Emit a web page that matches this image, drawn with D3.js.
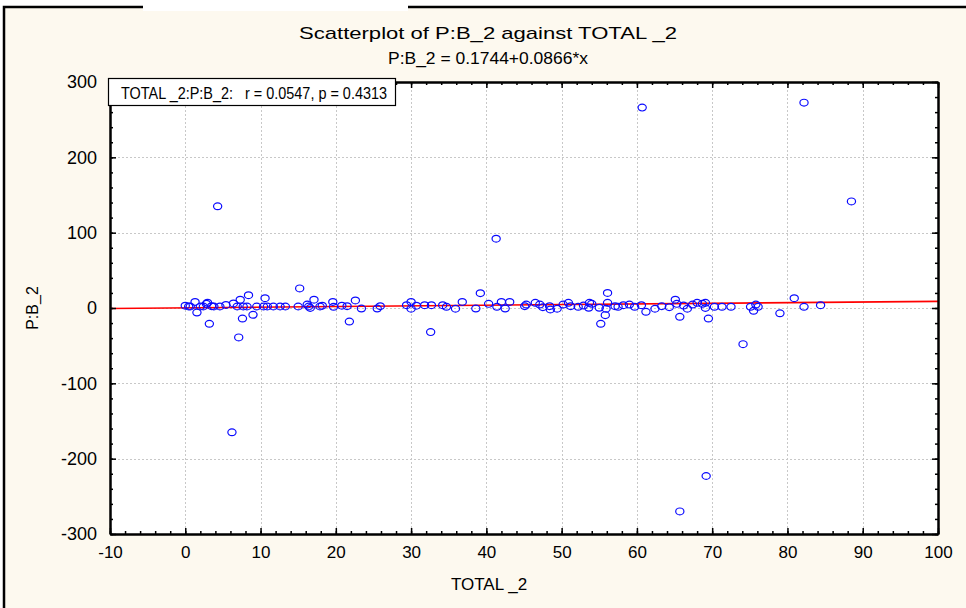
<!DOCTYPE html>
<html>
<head>
<meta charset="utf-8">
<script src="https://cdn.jsdelivr.net/npm/d3@7"></script>
<style>
  body { margin: 0; background: #ffffff; }
  svg text { font-family: "Liberation Sans", Arial, sans-serif; fill: #000; }
</style>
</head>
<body>
<svg id="chart" width="966" height="608"></svg>
<script>
// values
var totalValues = [0, 0.45, 0.66, 1.3, 1.55, 2.0, 2.4, 2.8, 2.96, 3.2, 3.5, 3.8, 4.3, 4.6, 5.4, 6.2, 6.4, 6.9, 7.1, 7.3, 7.6, 7.7, 8.2, 8.4, 9.0, 9.5, 10.4, 10.6, 10.9, 11.7, 12.6, 13.3, 15.0, 15.2, 16.4, 17.1, 17.9,
  16.2, 16.6, 18.2, 19.6, 19.7, 20.8, 21.5, 21.8, 22.6, 23.4, 25.5, 25.9, 29.4, 30.0, 30.0, 30.7, 31.8, 32.6, 32.7, 34.2, 34.7, 35.9, 36.8, 38.6, 39.2, 40.3, 41.3, 41.4, 42.0, 42.5, 43.1,
  45.1, 45.3, 46.5, 47.1, 47.5, 48.4, 48.5, 49.4, 50.2, 50.9, 51.2, 52.2, 52.9, 53.6, 53.7, 54.0, 55.0, 55.2, 55.8, 55.9, 56.1, 56.1, 57.1, 57.5, 58.2, 59.0, 59.7, 60.6, 60.7, 61.2, 62.4, 63.3, 64.3, 65.1, 65.3, 65.7, 65.7, 66.2, 66.7, 67.4, 68.0, 68.7, 69.1, 69.1, 69.2, 69.5, 70.3,
  71.3, 72.5, 74.1, 75.1, 75.5, 75.8, 76.1, 79.0, 80.9, 82.2, 82.2, 84.4, 88.5];
var pbValues = [3, 2, 2, 8, -6, 2, 2, 5.5, 7, -21, 2.4, 2, 135, 2, 4, -165, 6, 2, -39, 11, -14, 2, 2, 17, -9, 2, 2, 13, 2, 2, 2, 2, 2, 26, 2, 11, 2,
  4.6, 0, 3, 8, 1.6, 3, 2.4, -18, 10, -0.7, -0.7, 2.4, 3.7, 8, -1, 3, 3.7, -32, 3.7, 3.7, 1.6, -1, 8, -0.7, 19.6, 5.5, 92, 1.6, 8, -0.7, 8,
  2.4, 4.6, 6.9, 4.6, 1, 2.4, -2, -1, 4.6, 6.9, 2.4, 1.6, 3.3, 0.3, 6.9, 5.5, 0.3, -21, -9.5, -1, 20, 6.9, 2.4, 1.6, 3.7, 4.6, 1.6, 3.7, 266, -5, -1, 2.4, 1, 11, 5.5, -11.7, -270, 3.3, -1, 4.6, 6.9, 5.5, 6.9, 0, -223, -14, 1.6,
  1.6, 1.6, -48, 1.6, -3.7, 4.6, 1.6, -7, 13, 1.6, 272.6, 3.7, 141.5];

var xTicks = [-10, 0, 10, 20, 30, 40, 50, 60, 70, 80, 90, 100];
var yTicks = [-300, -200, -100, 0, 100, 200, 300];
var fitIntercept = 0.1744, fitSlope = 0.0866;
var titleText = "Scatterplot of P:B_2 against TOTAL _2";
var subtitleText = "P:B_2 = 0.1744+0.0866*x";
var legendText = "TOTAL _2:P:B_2:   r = 0.0547, p = 0.4313";
var xLabel = "TOTAL _2", yLabel = "P:B_2";

var points = totalValues.map(function(d, i) { return {x: d, y: pbValues[i]}; });

var svg = d3.select("#chart");

// outer panel
svg.append("rect").attr("x", 4).attr("y", 7).attr("width", 980).attr("height", 620)
  .attr("fill", "#fdf9ef").attr("stroke", "#000").attr("stroke-width", 2.5);
// the cut-off logo strip over the top border
svg.append("rect").attr("x", 143).attr("y", 0).attr("width", 265).attr("height", 11).attr("fill", "#ffffff");

var plotLeft = 110, plotRight = 938, plotTop = 82, plotBottom = 534;

var x = d3.scaleLinear().domain([-10, 100]).range([plotLeft, plotRight]);
var y = d3.scaleLinear().domain([-300, 300]).range([plotBottom, plotTop]);

svg.append("rect").attr("x", plotLeft).attr("y", plotTop)
  .attr("width", plotRight - plotLeft).attr("height", plotBottom - plotTop)
  .attr("fill", "#fff");

// grid
var grid = svg.append("g").attr("stroke", "#c8c8c8").attr("stroke-dasharray", "2,2").attr("stroke-width", 1);
grid.selectAll("line.gx").data(xTicks.slice(1, -1)).enter().append("line")
  .attr("x1", function(d) { return Math.round(x(d)) + 0.5; }).attr("x2", function(d) { return Math.round(x(d)) + 0.5; })
  .attr("y1", plotTop).attr("y2", plotBottom);
grid.selectAll("line.gy").data(yTicks.slice(1, -1)).enter().append("line")
  .attr("y1", function(d) { return Math.round(y(d)) + 0.5; }).attr("y2", function(d) { return Math.round(y(d)) + 0.5; })
  .attr("x1", plotLeft).attr("x2", plotRight);

// regression line
svg.append("line")
  .attr("x1", x(-10)).attr("y1", y(fitIntercept + fitSlope * -10))
  .attr("x2", x(100)).attr("y2", y(fitIntercept + fitSlope * 100))
  .attr("stroke", "#ff0000").attr("stroke-width", 1.6);

// points
svg.append("g").selectAll("ellipse").data(points).enter().append("ellipse")
  .attr("cx", function(d) { return x(d.x); })
  .attr("cy", function(d) { return y(d.y); })
  .attr("rx", 4.1).attr("ry", 3.4)
  .attr("fill", "none").attr("stroke", "#0a0aff").attr("stroke-width", 1.2);

// axes: major + minor ticks pointing inward on all four sides
var xMinor = d3.range(-10, 100.1, 2);
var yMinor = d3.range(-300, 300.1, 20);
var plain = function(d) { return String(d); };

function addAxis(axis, tx, ty) {
  var g = svg.append("g").attr("transform", "translate(" + tx + "," + ty + ")").call(axis);
  g.selectAll("path, line").attr("stroke", "#000");
  g.select(".domain").attr("stroke-width", 2);
  g.selectAll(".tick line").attr("stroke-width", 1.5);
  return g;
}

var xb = addAxis(d3.axisBottom(x).tickValues(xTicks).tickFormat(plain).tickSizeInner(-6).tickSizeOuter(0).tickPadding(12), 0, plotBottom);
xb.selectAll("text").attr("font-size", 17).attr("fill", "#000");
addAxis(d3.axisBottom(x).tickValues(xMinor).tickSizeInner(-3).tickSizeOuter(0).tickFormat(""), 0, plotBottom);
addAxis(d3.axisTop(x).tickValues(xTicks).tickSizeInner(-6).tickSizeOuter(0).tickFormat(""), 0, plotTop);
addAxis(d3.axisTop(x).tickValues(xMinor).tickSizeInner(-3).tickSizeOuter(0).tickFormat(""), 0, plotTop);

var yl = addAxis(d3.axisLeft(y).tickValues(yTicks).tickFormat(plain).tickSizeInner(-6).tickSizeOuter(0).tickPadding(13), plotLeft, 0);
yl.selectAll("text").attr("font-size", 18).attr("fill", "#000");
addAxis(d3.axisLeft(y).tickValues(yMinor).tickSizeInner(-3).tickSizeOuter(0).tickFormat(""), plotLeft, 0);
addAxis(d3.axisRight(y).tickValues(yTicks).tickSizeInner(-6).tickSizeOuter(0).tickFormat(""), plotRight, 0);
addAxis(d3.axisRight(y).tickValues(yMinor).tickSizeInner(-3).tickSizeOuter(0).tickFormat(""), plotRight, 0);

// titles
svg.append("text").attr("x", 488).attr("y", 39).attr("text-anchor", "middle")
  .attr("font-size", 17).attr("textLength", 378).attr("lengthAdjust", "spacingAndGlyphs").text(titleText);
svg.append("text").attr("x", 488).attr("y", 64).attr("text-anchor", "middle")
  .attr("font-size", 17).attr("textLength", 200).attr("lengthAdjust", "spacingAndGlyphs").text(subtitleText);
svg.append("text").attr("x", 489).attr("y", 590).attr("text-anchor", "middle")
  .attr("font-size", 17).text(xLabel);
svg.append("text").attr("transform", "translate(38,308) rotate(-90)").attr("text-anchor", "middle")
  .attr("font-size", 16).text(yLabel);

// legend box
svg.append("rect").attr("x", 108.5).attr("y", 78.5).attr("width", 287).attr("height", 27)
  .attr("fill", "#fff").attr("stroke", "#000").attr("stroke-width", 1.2);
svg.append("text").attr("x", 121).attr("y", 98.5).attr("font-size", 16.5)
  .attr("textLength", 266).attr("lengthAdjust", "spacingAndGlyphs")
  .style("white-space", "pre").text(legendText);
</script>
</body>
</html>
